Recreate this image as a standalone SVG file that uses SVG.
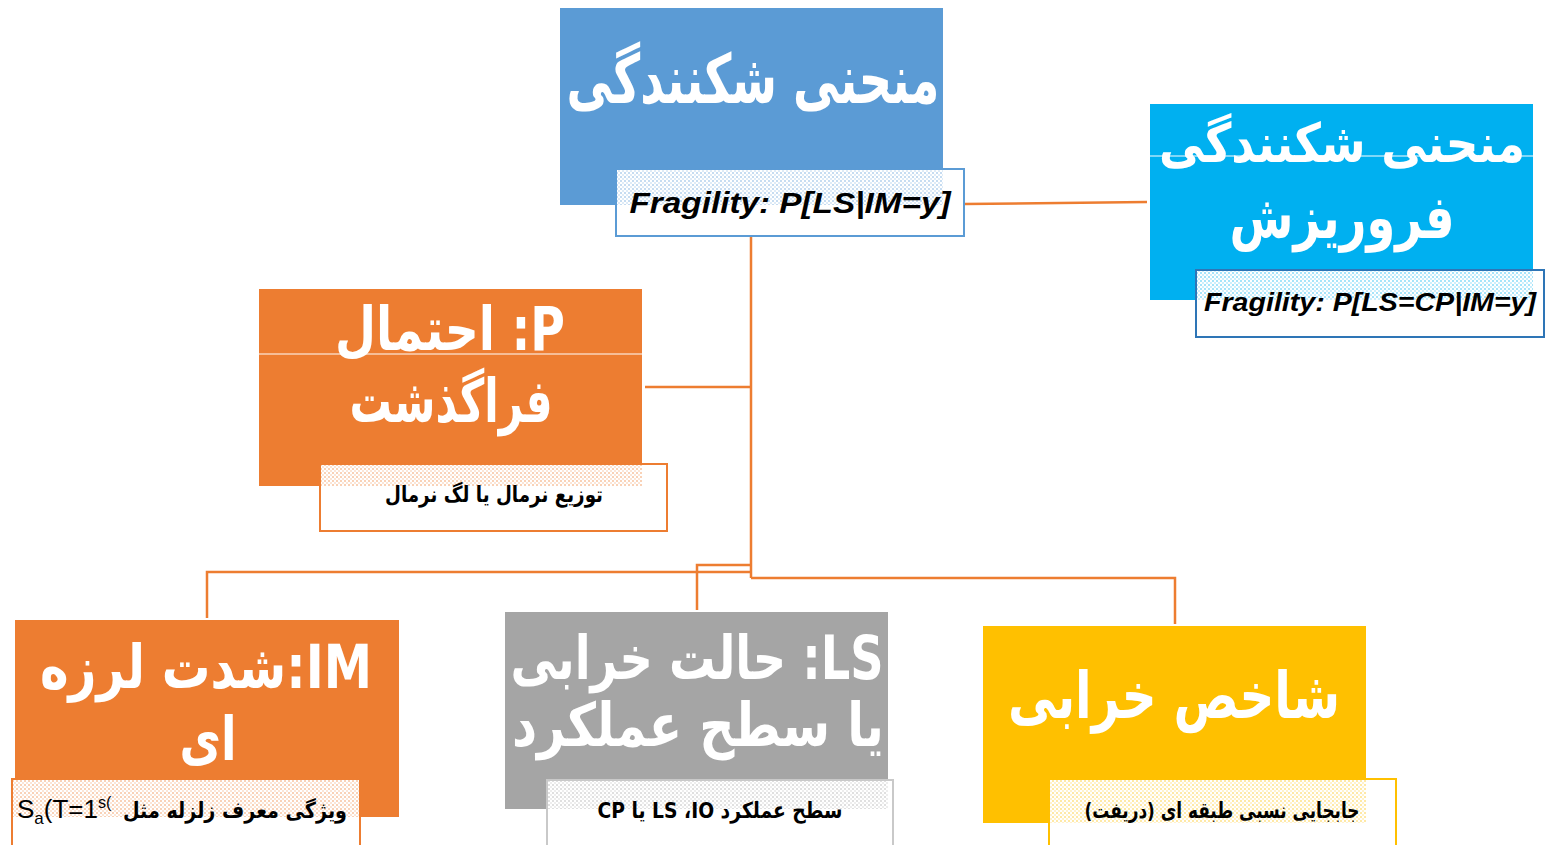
<svg xmlns="http://www.w3.org/2000/svg" width="1545" height="845" viewBox="0 0 1545 845">
<style>
.title{font-family:"DejaVu Sans",sans-serif;font-weight:bold;fill:#fff;text-anchor:middle}
.sub{font-family:"DejaVu Sans",sans-serif;font-weight:bold;fill:#000;font-size:22px}
.frag{font-family:"Liberation Sans",sans-serif;font-weight:bold;font-style:italic;fill:#000;text-anchor:middle}
.lat{font-family:"Liberation Sans",sans-serif;fill:#000;font-size:26px}
.conn{stroke:#ED7D31;stroke-width:2.5;fill:none}
.lbl{fill:#fff;stroke-width:2}
</style>
<defs>
<pattern id="pBlue" width="4" height="4" patternUnits="userSpaceOnUse"><rect width="4" height="4" fill="#fff"/><rect width="2" height="2" fill="#5B9BD5" opacity="0.35"/><rect x="2" y="2" width="2" height="2" fill="#5B9BD5" opacity="0.2"/></pattern>
<pattern id="pCyan" width="4" height="4" patternUnits="userSpaceOnUse"><rect width="4" height="4" fill="#fff"/><rect width="2" height="2" fill="#00B0F0" opacity="0.35"/><rect x="2" y="2" width="2" height="2" fill="#00B0F0" opacity="0.2"/></pattern>
<pattern id="pOrange" width="4" height="4" patternUnits="userSpaceOnUse"><rect width="4" height="4" fill="#fff"/><rect width="2" height="2" fill="#ED7D31" opacity="0.35"/><rect x="2" y="2" width="2" height="2" fill="#ED7D31" opacity="0.2"/></pattern>
<pattern id="pGray" width="4" height="4" patternUnits="userSpaceOnUse"><rect width="4" height="4" fill="#fff"/><rect width="2" height="2" fill="#A5A5A5" opacity="0.35"/><rect x="2" y="2" width="2" height="2" fill="#A5A5A5" opacity="0.2"/></pattern>
<pattern id="pYellow" width="4" height="4" patternUnits="userSpaceOnUse"><rect width="4" height="4" fill="#fff"/><rect width="2" height="2" fill="#FFC000" opacity="0.35"/><rect x="2" y="2" width="2" height="2" fill="#FFC000" opacity="0.2"/></pattern>
</defs>
<rect width="1545" height="845" fill="#fff"/>

<g id="connectors">
<polyline class="conn" points="751,236 751,578"/>
<polyline class="conn" points="645,387 751,387"/>
<polyline class="conn" points="964,204 1147,202"/>
<polyline class="conn" points="751,572 207,572 207,618"/>
<polyline class="conn" points="751,565 697,565 697,610"/>
<polyline class="conn" points="751,578 1175,578 1175,624"/>
</g>

<g id="node-fragility">
<rect x="560" y="8" width="383" height="197" fill="#5B9BD5"/>
<text class="title" x="753" y="103" font-size="68" direction="rtl" textLength="373" lengthAdjust="spacingAndGlyphs">منحنی شکنندگی</text>
<rect class="lbl" x="616" y="169" width="348" height="67" stroke="#5B9BD5"/>
<rect x="617" y="170" width="326" height="35" fill="url(#pBlue)"/>
<text class="frag" x="790" y="213" font-size="29" textLength="321" lengthAdjust="spacingAndGlyphs">Fragility: P[LS|IM=y]</text>
</g>

<g id="node-collapse">
<rect x="1150" y="104" width="383" height="196" fill="#00B0F0"/>
<line x1="1150" y1="156" x2="1533" y2="156" stroke="#fff" stroke-width="1"/>
<text class="title" x="1342" y="162" font-size="54" direction="rtl" textLength="366" lengthAdjust="spacingAndGlyphs">منحنی شکنندگی</text>
<text class="title" x="1342" y="238" font-size="60" direction="rtl" textLength="225" lengthAdjust="spacingAndGlyphs">فروریزش</text>
<rect class="lbl" x="1196" y="270" width="348" height="67" stroke="#2E75B6"/>
<rect x="1197" y="271" width="336" height="29" fill="url(#pCyan)"/>
<text class="frag" x="1370" y="311" font-size="26" textLength="332" lengthAdjust="spacingAndGlyphs">Fragility: P[LS=CP|IM=y]</text>
</g>

<g id="node-probability">
<rect x="259" y="289" width="383" height="197" fill="#ED7D31"/>
<line x1="259" y1="354" x2="642" y2="354" stroke="#fff" stroke-width="1"/>
<text class="title" x="450" y="350" font-size="60" direction="rtl" textLength="230" lengthAdjust="spacingAndGlyphs">P: احتمال</text>
<text class="title" x="451" y="422" font-size="60" direction="rtl" textLength="203" lengthAdjust="spacingAndGlyphs">فراگذشت</text>
<rect class="lbl" x="320" y="464" width="347" height="67" stroke="#ED7D31"/>
<rect x="321" y="465" width="321" height="21" fill="url(#pOrange)"/>
<text class="sub" x="494" y="502" text-anchor="middle" direction="rtl" textLength="218" lengthAdjust="spacingAndGlyphs">توزیع نرمال یا لگ نرمال</text>
</g>

<g id="node-im">
<rect x="15" y="620" width="384" height="197" fill="#ED7D31"/>
<text class="title" x="206" y="688" font-size="60" direction="rtl" textLength="332" lengthAdjust="spacingAndGlyphs">IM:شدت لرزه</text>
<text class="title" x="208" y="760" font-size="60" direction="rtl" textLength="57" lengthAdjust="spacingAndGlyphs">ای</text>
<rect class="lbl" x="12" y="779" width="348" height="80" stroke="#ED7D31"/>
<rect x="13" y="780" width="346" height="37" fill="url(#pOrange)"/>
<text class="sub" x="235" y="818" text-anchor="middle" direction="rtl" textLength="224" lengthAdjust="spacingAndGlyphs">ویژگی معرف زلزله مثل</text>
<text class="lat" x="17" y="818" direction="ltr">S<tspan font-size="17" dy="6">a</tspan><tspan dy="-6">(T=1</tspan><tspan font-size="16" dy="-10">s(</tspan></text>
</g>

<g id="node-ls">
<rect x="505" y="612" width="383" height="197" fill="#A5A5A5"/>
<text class="title" x="697" y="679" font-size="60" direction="rtl" textLength="373" lengthAdjust="spacingAndGlyphs">LS: حالت خرابی</text>
<text class="title" x="698" y="746" font-size="60" direction="rtl" textLength="372" lengthAdjust="spacingAndGlyphs">یا سطح عملکرد</text>
<rect class="lbl" x="547" y="780" width="346" height="80" stroke="#C9C9C9"/>
<rect x="548" y="781" width="340" height="28" fill="url(#pGray)"/>
<text class="sub" x="720" y="818" text-anchor="middle" direction="rtl" textLength="245" lengthAdjust="spacingAndGlyphs">سطح عملکرد IO،&#x200F; LS یا CP</text>
</g>

<g id="node-damage">
<rect x="983" y="626" width="383" height="197" fill="#FFC000"/>
<text class="title" x="1174" y="718" font-size="64" direction="rtl" textLength="332" lengthAdjust="spacingAndGlyphs">شاخص خرابی</text>
<rect class="lbl" x="1049" y="779" width="347" height="80" stroke="#FFC000"/>
<rect x="1050" y="780" width="316" height="43" fill="url(#pYellow)"/>
<text class="sub" x="1222" y="818" text-anchor="middle" direction="rtl" textLength="275" lengthAdjust="spacingAndGlyphs">جابجایی نسبی طبقه ای (دریفت)</text>
</g>
</svg>
